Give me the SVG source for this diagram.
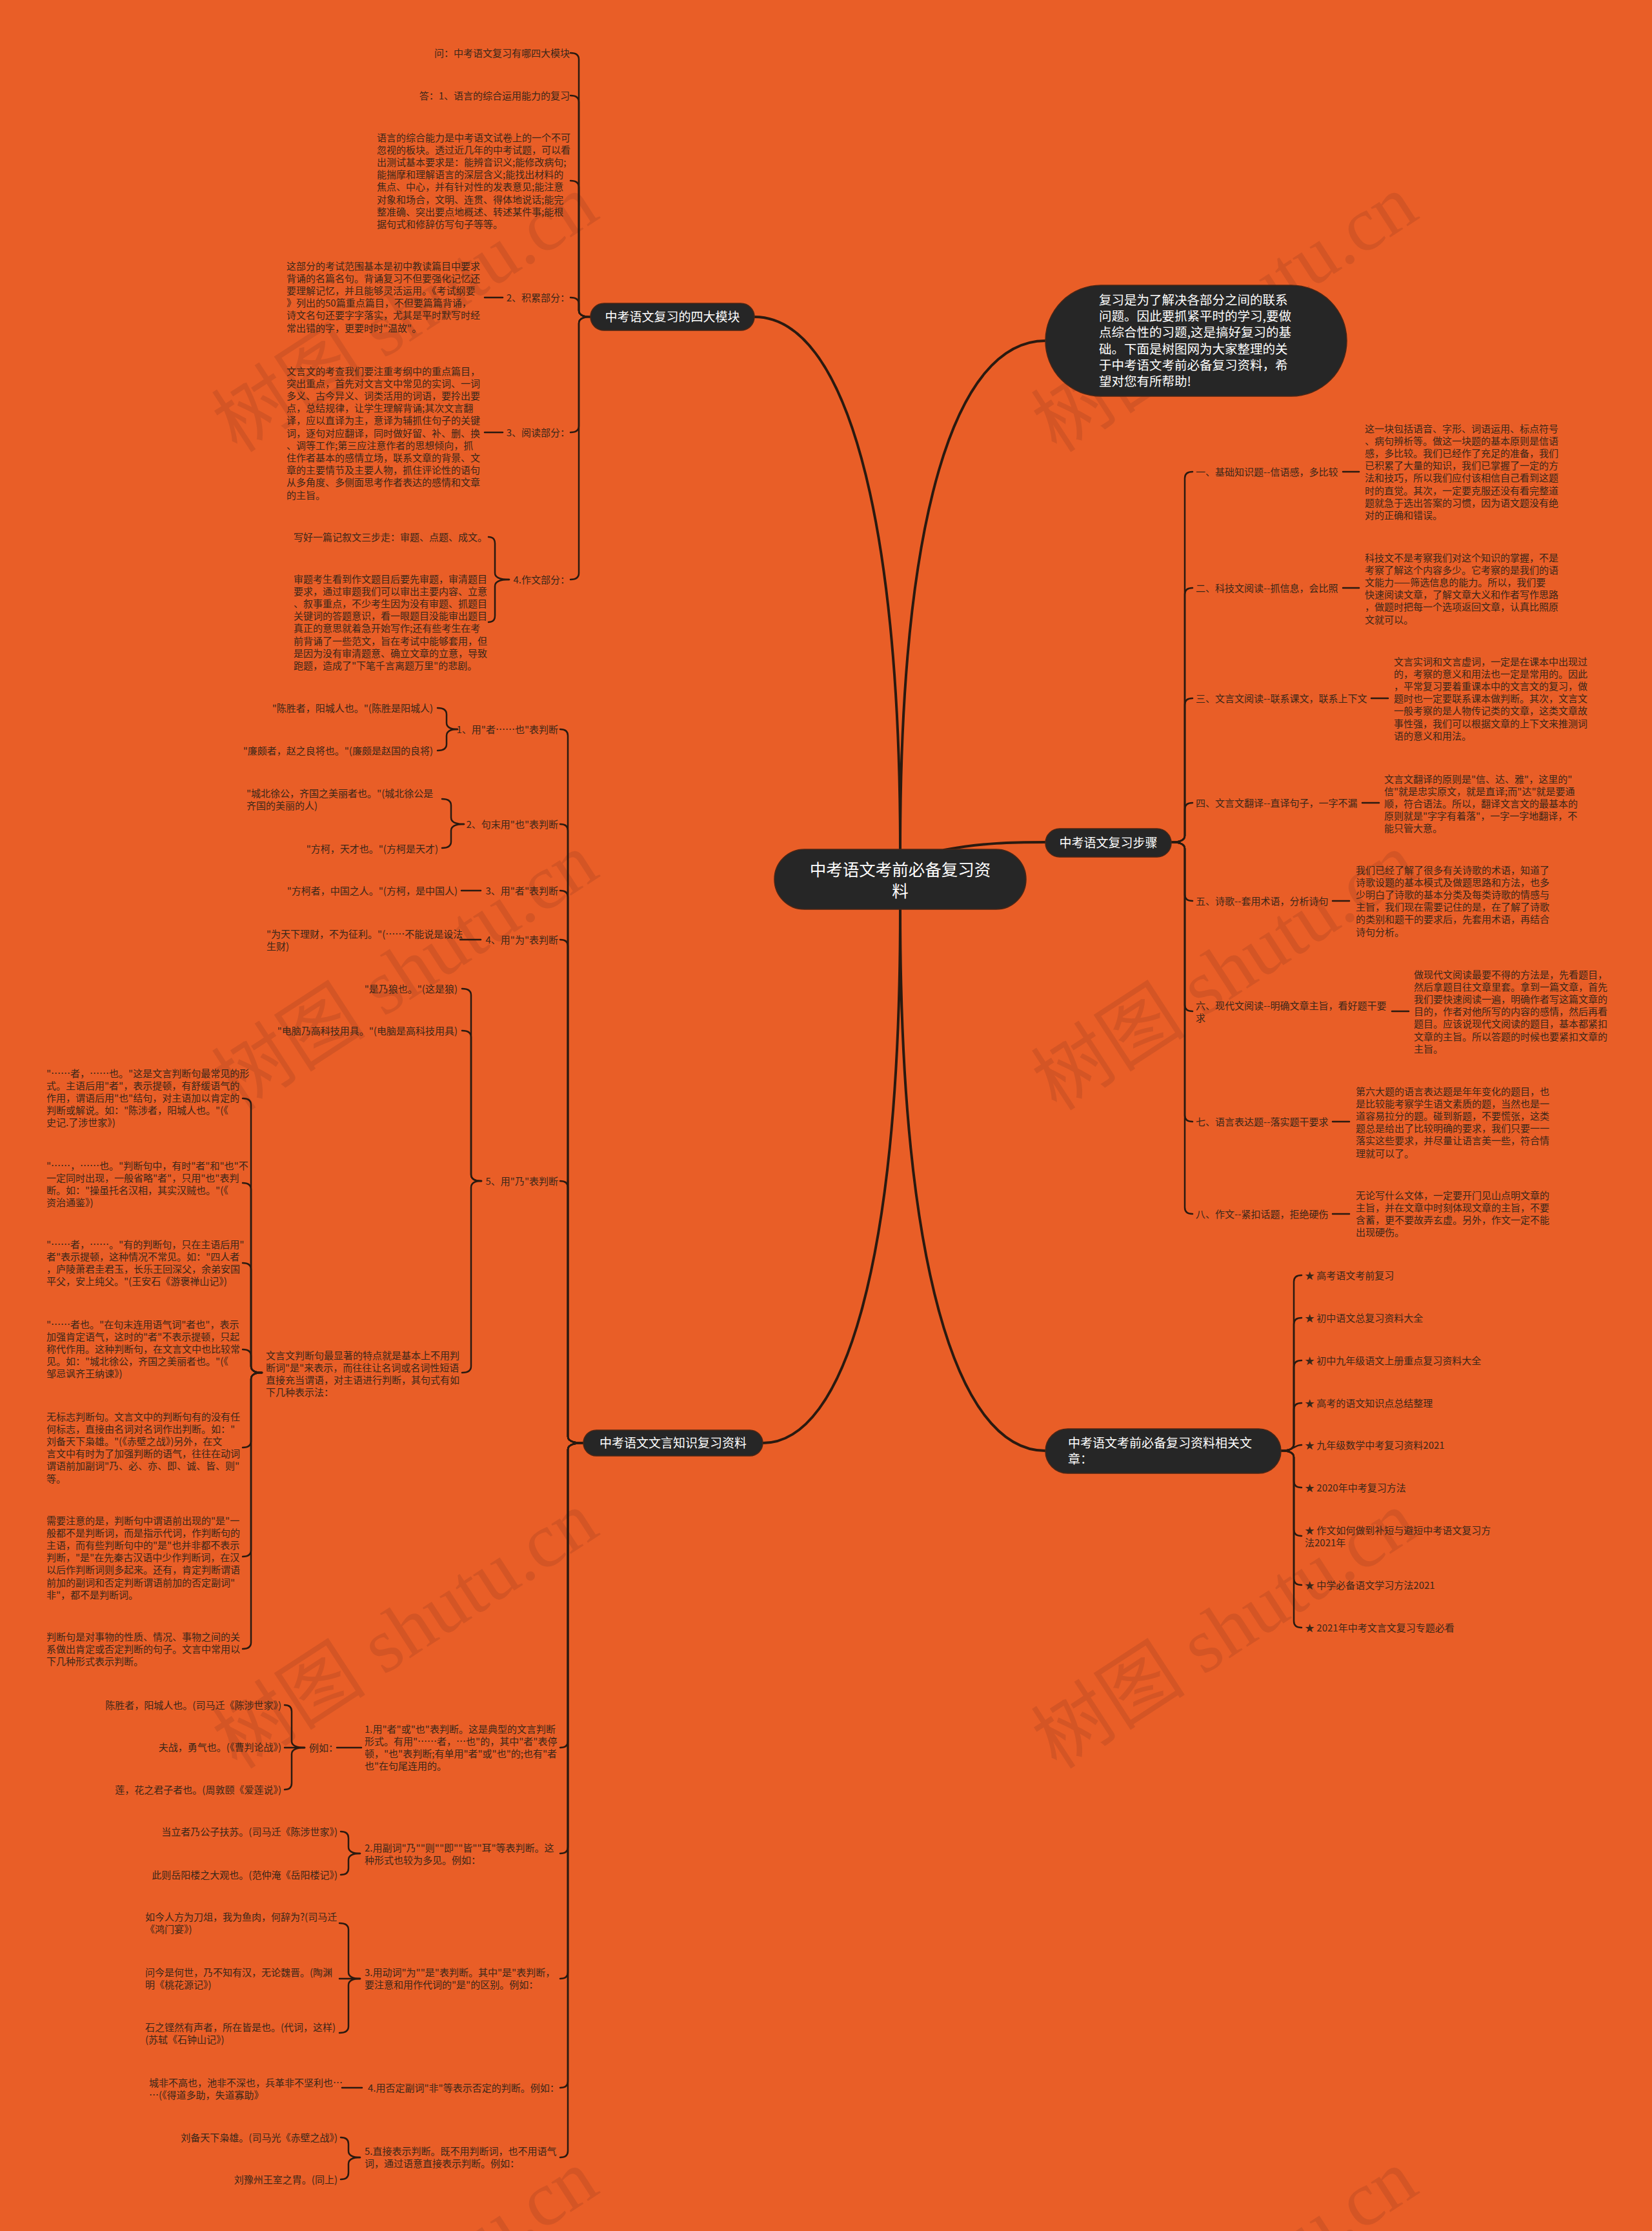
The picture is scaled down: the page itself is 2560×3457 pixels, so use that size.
<svg xmlns="http://www.w3.org/2000/svg" width="2560" height="3457" viewBox="0 0 2560 3457">
<style>
.t{font-family:"Noto Sans CJK SC","Noto Sans",sans-serif;font-size:15px;fill:#3a2719}
.e{text-anchor:end}
.n{font-family:"Noto Sans CJK SC","Noto Sans",sans-serif;font-size:19px;fill:#ffffff}
.m{text-anchor:middle}
.nd{fill:#262626;stroke:#4a2616;stroke-width:1.5}
.ln{fill:none;stroke:#2a1a10;stroke-width:2.5;stroke-linecap:round;stroke-linejoin:round}
.mn{fill:none;stroke:#2a1a10;stroke-width:4;stroke-linecap:round}
.wm{font-family:"Liberation Serif","Noto Sans CJK SC",serif;font-size:120px;fill:#a04020;opacity:0.28;text-anchor:middle}
</style>
<rect x="0" y="0" width="2560" height="3457" fill="#E95E27"/>
<g id="watermarks">
<text class="wm" transform="translate(650,520) rotate(-33)">树图 shutu.cn</text>
<text class="wm" transform="translate(1920,520) rotate(-33)">树图 shutu.cn</text>
<text class="wm" transform="translate(650,1540) rotate(-33)">树图 shutu.cn</text>
<text class="wm" transform="translate(1920,1540) rotate(-33)">树图 shutu.cn</text>
<text class="wm" transform="translate(650,2560) rotate(-33)">树图 shutu.cn</text>
<text class="wm" transform="translate(1920,2560) rotate(-33)">树图 shutu.cn</text>
<text class="wm" transform="translate(650,3580) rotate(-33)">树图 shutu.cn</text>
<text class="wm" transform="translate(1920,3580) rotate(-33)">树图 shutu.cn</text>
</g>
<g id="connectors">
<path class="mn" d="M1395,1316C1395,800 1310,491 1169,491"/>
<path class="mn" d="M1395,1316C1395,800 1480,528 1620,528"/>
<path class="mn" d="M1463,1317C1525,1306 1565,1305 1620,1305"/>
<path class="mn" d="M1395,1409C1395,1950 1310,2236 1182,2236"/>
<path class="mn" d="M1395,1409C1395,1950 1480,2248 1620,2248"/>
<path class="ln" d="M915,491Q897,491 897,481L897,92Q897,82 884,82"/>
<path class="ln" d="M915,491Q897,491 897,481L897,158Q897,148 884,148"/>
<path class="ln" d="M915,491Q897,491 897,481L897,290Q897,280 884,280"/>
<path class="ln" d="M915,491Q897,491 897,481L897,471Q897,461 884,461"/>
<path class="ln" d="M915,491Q897,491 897,501L897,660Q897,670 884,670"/>
<path class="ln" d="M915,491Q897,491 897,501L897,888Q897,898 884,898"/>
<path class="ln" d="M779,461L751,461"/>
<path class="ln" d="M779,670L751,670"/>
<path class="ln" d="M789,898Q767,898 767,888L767,842Q767,832 757,832"/>
<path class="ln" d="M789,898Q767,898 767,908L767,954Q767,964 757,964"/>
<path class="ln" d="M904,2236Q880,2236 880,2226L880,1140Q880,1130 868,1130"/>
<path class="ln" d="M904,2236Q880,2236 880,2226L880,1287Q880,1277 868,1277"/>
<path class="ln" d="M904,2236Q880,2236 880,2226L880,1390Q880,1380 868,1380"/>
<path class="ln" d="M904,2236Q880,2236 880,2226L880,1466Q880,1456 868,1456"/>
<path class="ln" d="M904,2236Q880,2236 880,2226L880,1840Q880,1830 868,1830"/>
<path class="ln" d="M904,2236Q880,2236 880,2246L880,2698Q880,2708 868,2708"/>
<path class="ln" d="M904,2236Q880,2236 880,2246L880,2862Q880,2872 868,2872"/>
<path class="ln" d="M904,2236Q880,2236 880,2246L880,3056Q880,3066 868,3066"/>
<path class="ln" d="M904,2236Q880,2236 880,2246L880,3225Q880,3235 868,3235"/>
<path class="ln" d="M904,2236Q880,2236 880,2246L880,3333Q880,3343 868,3343"/>
<path class="ln" d="M709,1130Q692,1130 692,1120L692,1107Q692,1097 678,1097"/>
<path class="ln" d="M709,1130Q692,1130 692,1140L692,1153Q692,1163 678,1163"/>
<path class="ln" d="M719,1277Q699,1277 699,1267L699,1248Q699,1238 685,1238"/>
<path class="ln" d="M719,1277Q699,1277 699,1287L699,1304Q699,1314 685,1314"/>
<path class="ln" d="M745,1380L715,1380"/>
<path class="ln" d="M745,1456L713,1456"/>
<path class="ln" d="M746,1830Q730,1830 730,1820L730,1542Q730,1532 716,1532"/>
<path class="ln" d="M746,1830Q730,1830 730,1820L730,1607Q730,1597 716,1597"/>
<path class="ln" d="M746,1830Q730,1830 730,1840L730,2117Q730,2127 716,2127"/>
<path class="ln" d="M406,2127Q389,2127 389,2117L389,1712Q389,1702 376,1702"/>
<path class="ln" d="M406,2127Q389,2127 389,2117L389,1843Q389,1833 376,1833"/>
<path class="ln" d="M406,2127Q389,2127 389,2117L389,1967Q389,1957 376,1957"/>
<path class="ln" d="M406,2127Q389,2127 389,2117L389,2101Q389,2091 376,2091"/>
<path class="ln" d="M406,2127Q389,2127 389,2137L389,2233Q389,2243 376,2243"/>
<path class="ln" d="M406,2127Q389,2127 389,2137L389,2402Q389,2412 376,2412"/>
<path class="ln" d="M406,2127Q389,2127 389,2137L389,2545Q389,2555 376,2555"/>
<path class="ln" d="M560,2708L522,2708"/>
<path class="ln" d="M472,2708Q452,2708 452,2698L452,2652Q452,2642 441,2642"/>
<path class="ln" d="M472,2708L441,2708"/>
<path class="ln" d="M472,2708Q452,2708 452,2718L452,2763Q452,2773 441,2773"/>
<path class="ln" d="M558,2872Q540,2872 540,2862L540,2848Q540,2838 528,2838"/>
<path class="ln" d="M558,2872Q540,2872 540,2882L540,2895Q540,2905 528,2905"/>
<path class="ln" d="M558,3066Q540,3066 540,3056L540,2990Q540,2980 526,2980"/>
<path class="ln" d="M558,3066L526,3066"/>
<path class="ln" d="M558,3066Q540,3066 540,3076L540,3140Q540,3150 526,3150"/>
<path class="ln" d="M561,3235L530,3235"/>
<path class="ln" d="M558,3343Q540,3343 540,3333L540,3322Q540,3312 528,3312"/>
<path class="ln" d="M558,3343Q540,3343 540,3353L540,3367Q540,3377 528,3377"/>
<path class="ln" d="M1815,1305Q1836,1305 1836,1295L1836,741Q1836,731 1848,731"/>
<path class="ln" d="M1815,1305Q1836,1305 1836,1295L1836,921Q1836,911 1848,911"/>
<path class="ln" d="M1815,1305Q1836,1305 1836,1295L1836,1092Q1836,1082 1848,1082"/>
<path class="ln" d="M1815,1305Q1836,1305 1836,1295L1836,1254Q1836,1244 1848,1244"/>
<path class="ln" d="M1815,1305Q1836,1305 1836,1315L1836,1386Q1836,1396 1848,1396"/>
<path class="ln" d="M1815,1305Q1836,1305 1836,1315L1836,1557Q1836,1567 1848,1567"/>
<path class="ln" d="M1815,1305Q1836,1305 1836,1315L1836,1728Q1836,1738 1848,1738"/>
<path class="ln" d="M1815,1305Q1836,1305 1836,1315L1836,1871Q1836,1881 1848,1881"/>
<path class="ln" d="M2081,731L2106,731"/>
<path class="ln" d="M2081,911L2106,911"/>
<path class="ln" d="M2125,1082L2151,1082"/>
<path class="ln" d="M2111,1244L2137,1244"/>
<path class="ln" d="M2065,1396L2091,1396"/>
<path class="ln" d="M2157,1567L2183,1567"/>
<path class="ln" d="M2065,1738L2091,1738"/>
<path class="ln" d="M2065,1881L2091,1881"/>
<path class="ln" d="M1985,2248Q2005,2248 2005,2238L2005,1986Q2005,1976 2017,1976"/>
<path class="ln" d="M1985,2248Q2005,2248 2005,2238L2005,2052Q2005,2042 2017,2042"/>
<path class="ln" d="M1985,2248Q2005,2248 2005,2238L2005,2118Q2005,2108 2017,2108"/>
<path class="ln" d="M1985,2248Q2005,2248 2005,2238L2005,2184Q2005,2174 2017,2174"/>
<path class="ln" d="M1985,2248C2005,2248 2005,2239 2017,2239"/>
<path class="ln" d="M1985,2248Q2005,2248 2005,2258L2005,2295Q2005,2305 2017,2305"/>
<path class="ln" d="M1985,2248Q2005,2248 2005,2258L2005,2370Q2005,2380 2017,2380"/>
<path class="ln" d="M1985,2248Q2005,2248 2005,2258L2005,2446Q2005,2456 2017,2456"/>
<path class="ln" d="M1985,2248Q2005,2248 2005,2258L2005,2512Q2005,2522 2017,2522"/>
</g>
<g id="center">
<rect class="nd" x="1200" y="1316" width="390" height="93" rx="46.5"/>
<text class="n m" style="font-size:25.5px" x="1395" y="1357">中考语文考前必备复习资</text>
<text class="n m" style="font-size:25.5px" x="1395" y="1390">料</text>
</g>
<g id="node-modules">
<rect class="nd" x="915" y="470" width="254" height="42" rx="21"/>
<text class="n m" x="1042" y="498">中考语文复习的四大模块</text>
</g>
<g id="modules-children">
<text class="t e" x="883" y="87.5">问：中考语文复习有哪四大模块</text>
<text class="t e" x="883" y="153.5">答：1、语言的综合运用能力的复习</text>
<text class="t" x="584" y="218.5"><tspan x="584" dy="0">语言的综合能力是中考语文试卷上的一个不可</tspan><tspan x="584" dy="19.2">忽视的板块。透过近几年的中考试题，可以看</tspan><tspan x="584" dy="19.2">出测试基本要求是：能辨音识义;能修改病句;</tspan><tspan x="584" dy="19.2">能揣摩和理解语言的深层含义;能找出材料的</tspan><tspan x="584" dy="19.2">焦点、中心，并有针对性的发表意见;能注意</tspan><tspan x="584" dy="19.2">对象和场合，文明、连贯、得体地说话;能完</tspan><tspan x="584" dy="19.2">整准确、突出要点地概述、转述某件事;能根</tspan><tspan x="584" dy="19.2">据句式和修辞仿写句子等等。</tspan></text>
<text class="t e" x="883" y="466.5">2、积累部分：</text>
<text class="t" x="444" y="417.5"><tspan x="444" dy="0">这部分的考试范围基本是初中教读篇目中要求</tspan><tspan x="444" dy="19.2">背诵的名篇名句。背诵复习不但要强化记忆还</tspan><tspan x="444" dy="19.2">要理解记忆，并且能够灵活运用。《考试纲要</tspan><tspan x="444" dy="19.2">》列出的50篇重点篇目，不但要篇篇背诵，</tspan><tspan x="444" dy="19.2">诗文名句还要字字落实，尤其是平时默写时经</tspan><tspan x="444" dy="19.2">常出错的字，更要时时"温故"。</tspan></text>
<text class="t e" x="883" y="675.5">3、阅读部分：</text>
<text class="t" x="444" y="580.5"><tspan x="444" dy="0">文言文的考查我们要注重考纲中的重点篇目，</tspan><tspan x="444" dy="19.2">突出重点，首先对文言文中常见的实词、一词</tspan><tspan x="444" dy="19.2">多义、古今异义、词类活用的词语，要拎出要</tspan><tspan x="444" dy="19.2">点，总结规律，让学生理解背诵;其次文言翻</tspan><tspan x="444" dy="19.2">译，应以直译为主，意译为辅抓住句子的关键</tspan><tspan x="444" dy="19.2">词，逐句对应翻译，同时做好留、补、删、换</tspan><tspan x="444" dy="19.2">、调等工作;第三应注意作者的思想倾向，抓</tspan><tspan x="444" dy="19.2">住作者基本的感情立场，联系文章的背景、文</tspan><tspan x="444" dy="19.2">章的主要情节及主要人物，抓住评论性的语句</tspan><tspan x="444" dy="19.2">从多角度、多侧面思考作者表达的感情和文章</tspan><tspan x="444" dy="19.2">的主旨。</tspan></text>
<text class="t e" x="883" y="903.5">4.作文部分：</text>
<text class="t e" x="755" y="837.5">写好一篇记叙文三步走：审题、点题、成文。</text>
<text class="t" x="455" y="902.5"><tspan x="455" dy="0">审题考生看到作文题目后要先审题，审清题目</tspan><tspan x="455" dy="19.2">要求，通过审题我们可以审出主要内容、立意</tspan><tspan x="455" dy="19.2">、叙事重点，不少考生因为没有审题、抓题目</tspan><tspan x="455" dy="19.2">关键词的答题意识，看一眼题目没能审出题目</tspan><tspan x="455" dy="19.2">真正的意思就着急开始写作;还有些考生在考</tspan><tspan x="455" dy="19.2">前背诵了一些范文，旨在考试中能够套用，但</tspan><tspan x="455" dy="19.2">是因为没有审清题意、确立文章的立意，导致</tspan><tspan x="455" dy="19.2">跑题，造成了"下笔千言离题万里"的悲剧。</tspan></text>
</g>
<g id="node-wenyan">
<rect class="nd" x="904" y="2216" width="278" height="40" rx="20"/>
<text class="n m" x="1043" y="2243">中考语文文言知识复习资料</text>
</g>
<g id="wenyan-children">
<text class="t e" x="865" y="1135.5">1、用"者……也"表判断</text>
<text class="t e" x="671" y="1102.5">"陈胜者，阳城人也。"(陈胜是阳城人)</text>
<text class="t e" x="671" y="1168.5">"廉颇者，赵之良将也。"(廉颇是赵国的良将)</text>
<text class="t e" x="865" y="1282.5">2、句末用"也"表判断</text>
<text class="t" x="382" y="1234.5"><tspan x="382" dy="0">"城北徐公，齐国之美丽者也。"(城北徐公是</tspan><tspan x="382" dy="19.2">齐国的美丽的人)</tspan></text>
<text class="t e" x="679" y="1320.5">"方柯，天才也。"(方柯是天才)</text>
<text class="t e" x="865" y="1385.5">3、用"者"表判断</text>
<text class="t e" x="709" y="1385.5">"方柯者，中国之人。"(方柯，是中国人)</text>
<text class="t e" x="865" y="1461.5">4、用"为"表判断</text>
<text class="t" x="413" y="1452.5"><tspan x="413" dy="0">"为天下理财，不为征利。"(……不能说是设法</tspan><tspan x="413" dy="19.2">生财)</tspan></text>
<text class="t e" x="865" y="1835.5">5、用"乃"表判断</text>
<text class="t e" x="709" y="1537.5">"是乃狼也。"(这是狼)</text>
<text class="t e" x="709" y="1602.5">"电脑乃高科技用具。"(电脑是高科技用具)</text>
<text class="t" x="412" y="2105.5"><tspan x="412" dy="0">文言文判断句最显著的特点就是基本上不用判</tspan><tspan x="412" dy="19.2">断词"是"来表示，而往往让名词或名词性短语</tspan><tspan x="412" dy="19.2">直接充当谓语，对主语进行判断，其句式有如</tspan><tspan x="412" dy="19.2">下几种表示法：</tspan></text>
<text class="t" x="72" y="1668.5"><tspan x="72" dy="0">"……者，……也。"这是文言判断句最常见的形</tspan><tspan x="72" dy="19.2">式。主语后用"者"，表示提顿，有舒缓语气的</tspan><tspan x="72" dy="19.2">作用，谓语后用"也"结句，对主语加以肯定的</tspan><tspan x="72" dy="19.2">判断或解说。如："陈涉者，阳城人也。"(《</tspan><tspan x="72" dy="19.2">史记.了涉世家》)</tspan></text>
<text class="t" x="72" y="1811.5"><tspan x="72" dy="0">"……，……也。"判断句中，有时"者"和"也"不</tspan><tspan x="72" dy="19.2">一定同时出现，一般省略"者"，只用"也"表判</tspan><tspan x="72" dy="19.2">断。如："操虽托名汉相，其实汉贼也。"(《</tspan><tspan x="72" dy="19.2">资治通鉴》)</tspan></text>
<text class="t" x="72" y="1933.5"><tspan x="72" dy="0">"……者，……。"有的判断句，只在主语后用"</tspan><tspan x="72" dy="19.2">者"表示提顿，这种情况不常见。如："四人者</tspan><tspan x="72" dy="19.2">，庐陵萧君圭君玉，长乐王回深父，余弟安国</tspan><tspan x="72" dy="19.2">平父，安上纯父。"(王安石《游褒禅山记》)</tspan></text>
<text class="t" x="72" y="2057.5"><tspan x="72" dy="0">"……者也。"在句末连用语气词"者也"，表示</tspan><tspan x="72" dy="19.2">加强肯定语气，这时的"者"不表示提顿，只起</tspan><tspan x="72" dy="19.2">称代作用。这种判断句，在文言文中也比较常</tspan><tspan x="72" dy="19.2">见。如："城北徐公，齐国之美丽者也。"(《</tspan><tspan x="72" dy="19.2">邹忌讽齐王纳谏》)</tspan></text>
<text class="t" x="72" y="2200.5"><tspan x="72" dy="0">无标志判断句。文言文中的判断句有的没有任</tspan><tspan x="72" dy="19.2">何标志，直接由名词对名词作出判断。如："</tspan><tspan x="72" dy="19.2">刘备天下枭雄。"(《赤壁之战》)另外，在文</tspan><tspan x="72" dy="19.2">言文中有时为了加强判断的语气，往往在动词</tspan><tspan x="72" dy="19.2">谓语前加副词"乃、必、亦、即、诚、皆、则"</tspan><tspan x="72" dy="19.2">等。</tspan></text>
<text class="t" x="72" y="2361.5"><tspan x="72" dy="0">需要注意的是，判断句中谓语前出现的"是"一</tspan><tspan x="72" dy="19.2">般都不是判断词，而是指示代词，作判断句的</tspan><tspan x="72" dy="19.2">主语，而有些判断句中的"是"也并非都不表示</tspan><tspan x="72" dy="19.2">判断，"是"在先秦古汉语中少作判断词，在汉</tspan><tspan x="72" dy="19.2">以后作判断词则多起来。还有，肯定判断谓语</tspan><tspan x="72" dy="19.2">前加的副词和否定判断谓语前加的否定副词"</tspan><tspan x="72" dy="19.2">非"，都不是判断词。</tspan></text>
<text class="t" x="72" y="2541.5"><tspan x="72" dy="0">判断句是对事物的性质、情况、事物之间的关</tspan><tspan x="72" dy="19.2">系做出肯定或否定判断的句子。文言中常用以</tspan><tspan x="72" dy="19.2">下几种形式表示判断。</tspan></text>
<text class="t" x="565" y="2684.5"><tspan x="565" dy="0">1.用"者"或"也"表判断。这是典型的文言判断</tspan><tspan x="565" dy="19.2">形式。有用"……者，…也"的，其中"者"表停</tspan><tspan x="565" dy="19.2">顿，"也"表判断;有单用"者"或"也"的;也有"者</tspan><tspan x="565" dy="19.2">也"在句尾连用的。</tspan></text>
<text class="t" x="479" y="2713.5">例如：</text>
<text class="t e" x="436" y="2647.5">陈胜者，阳城人也。(司马迁《陈涉世家》)</text>
<text class="t e" x="436" y="2712.5">夫战，勇气也。(《曹判论战》)</text>
<text class="t e" x="436" y="2778.5">莲，花之君子者也。(周敦颐《爱莲说》)</text>
<text class="t" x="565" y="2868.5"><tspan x="565" dy="0">2.用副词"乃""则""即""皆""耳"等表判断。这</tspan><tspan x="565" dy="19.2">种形式也较为多见。例如：</tspan></text>
<text class="t e" x="523" y="2843.5">当立者乃公子扶苏。(司马迁《陈涉世家》)</text>
<text class="t e" x="523" y="2910.5">此则岳阳楼之大观也。(范仲淹《岳阳楼记》)</text>
<text class="t" x="565" y="3061.5"><tspan x="565" dy="0">3.用动词"为""是"表判断。其中"是"表判断，</tspan><tspan x="565" dy="19.2">要注意和用作代词的"是"的区别。例如：</tspan></text>
<text class="t" x="225" y="2975.5"><tspan x="225" dy="0">如今人方为刀俎，我为鱼肉，何辞为?(司马迁</tspan><tspan x="225" dy="19.2">《鸿门宴》)</tspan></text>
<text class="t" x="225" y="3061.5"><tspan x="225" dy="0">问今是何世，乃不知有汉，无论魏晋。(陶渊</tspan><tspan x="225" dy="19.2">明《桃花源记》)</tspan></text>
<text class="t" x="225" y="3146.5"><tspan x="225" dy="0">石之铿然有声者，所在皆是也。(代词，这样)</tspan><tspan x="225" dy="19.2">(苏轼《石钟山记》)</tspan></text>
<text class="t" x="570" y="3240.5">4.用否定副词"非"等表示否定的判断。例如：</text>
<text class="t" x="231" y="3232.5"><tspan x="231" dy="0">城非不高也，池非不深也，兵革非不坚利也…</tspan><tspan x="231" dy="19.2">…(《得道多助，失道寡助》</tspan></text>
<text class="t" x="565" y="3338.5"><tspan x="565" dy="0">5.直接表示判断。既不用判断词，也不用语气</tspan><tspan x="565" dy="19.2">词，通过语意直接表示判断。例如：</tspan></text>
<text class="t e" x="523" y="3317.5">刘备天下枭雄。(司马光《赤壁之战》)</text>
<text class="t e" x="523" y="3382.5">刘豫州王室之胄。(同上)</text>
</g>
<g id="node-intro">
<rect class="nd" x="1620" y="442" width="467" height="172" rx="86"/>
<text class="n" style="font-size:19.5px" x="1703" y="472"><tspan x="1703" dy="0">复习是为了解决各部分之间的联系</tspan><tspan x="1703" dy="25.2">问题。因此要抓紧平时的学习,要做</tspan><tspan x="1703" dy="25.2">点综合性的习题,这是搞好复习的基</tspan><tspan x="1703" dy="25.2">础。下面是树图网为大家整理的关</tspan><tspan x="1703" dy="25.2">于中考语文考前必备复习资料，希</tspan><tspan x="1703" dy="25.2">望对您有所帮助!</tspan></text>
</g>
<g id="node-steps">
<rect class="nd" x="1620" y="1284" width="195" height="44" rx="22"/>
<text class="n m" x="1717.5" y="1313">中考语文复习步骤</text>
</g>
<g id="steps-children">
<text class="t" x="1853" y="736.5">一、基础知识题--信语感，多比较</text>
<text class="t" x="2115" y="669.5"><tspan x="2115" dy="0">这一块包括语音、字形、词语运用、标点符号</tspan><tspan x="2115" dy="19.2">、病句辨析等。做这一块题的基本原则是信语</tspan><tspan x="2115" dy="19.2">感，多比较。我们已经作了充足的准备，我们</tspan><tspan x="2115" dy="19.2">已积累了大量的知识，我们已掌握了一定的方</tspan><tspan x="2115" dy="19.2">法和技巧，所以我们应付该相信自己看到这题</tspan><tspan x="2115" dy="19.2">时的直觉。其次，一定要克服还没有看完整道</tspan><tspan x="2115" dy="19.2">题就急于选出答案的习惯，因为语文题没有绝</tspan><tspan x="2115" dy="19.2">对的正确和错误。</tspan></text>
<text class="t" x="1853" y="916.5">二、科技文阅读--抓信息，会比照</text>
<text class="t" x="2115" y="869.5"><tspan x="2115" dy="0">科技文不是考察我们对这个知识的掌握，不是</tspan><tspan x="2115" dy="19.2">考察了解这个内容多少。它考察的是我们的语</tspan><tspan x="2115" dy="19.2">文能力——筛选信息的能力。所以，我们要</tspan><tspan x="2115" dy="19.2">快速阅读文章，了解文章大义和作者写作思路</tspan><tspan x="2115" dy="19.2">，做题时把每一个选项返回文章，认真比照原</tspan><tspan x="2115" dy="19.2">文就可以。</tspan></text>
<text class="t" x="1853" y="1087.5">三、文言文阅读--联系课文，联系上下文</text>
<text class="t" x="2160" y="1030.5"><tspan x="2160" dy="0">文言实词和文言虚词，一定是在课本中出现过</tspan><tspan x="2160" dy="19.2">的，考察的意义和用法也一定是常用的。因此</tspan><tspan x="2160" dy="19.2">，平常复习要着重课本中的文言文的复习，做</tspan><tspan x="2160" dy="19.2">题时也一定要联系课本做判断。其次，文言文</tspan><tspan x="2160" dy="19.2">一般考察的是人物传记类的文章，这类文章故</tspan><tspan x="2160" dy="19.2">事性强，我们可以根据文章的上下文来推测词</tspan><tspan x="2160" dy="19.2">语的意义和用法。</tspan></text>
<text class="t" x="1853" y="1249.5">四、文言文翻译--直译句子，一字不漏</text>
<text class="t" x="2145" y="1212.5"><tspan x="2145" dy="0">文言文翻译的原则是"信、达、雅"，这里的"</tspan><tspan x="2145" dy="19.2">信"就是忠实原文，就是直译;而"达"就是要通</tspan><tspan x="2145" dy="19.2">顺，符合语法。所以，翻译文言文的最基本的</tspan><tspan x="2145" dy="19.2">原则就是"字字有着落"，一字一字地翻译，不</tspan><tspan x="2145" dy="19.2">能只管大意。</tspan></text>
<text class="t" x="1853" y="1401.5">五、诗歌--套用术语，分析诗句</text>
<text class="t" x="2101" y="1353.5"><tspan x="2101" dy="0">我们已经了解了很多有关诗歌的术语，知道了</tspan><tspan x="2101" dy="19.2">诗歌设题的基本模式及做题思路和方法，也多</tspan><tspan x="2101" dy="19.2">少明白了诗歌的基本分类及每类诗歌的情感与</tspan><tspan x="2101" dy="19.2">主旨，我们现在需要记住的是，在了解了诗歌</tspan><tspan x="2101" dy="19.2">的类别和题干的要求后，先套用术语，再结合</tspan><tspan x="2101" dy="19.2">诗句分析。</tspan></text>
<text class="t" x="1853" y="1563.5"><tspan x="1853" dy="0">六、现代文阅读--明确文章主旨，看好题干要</tspan><tspan x="1853" dy="19.2">求</tspan></text>
<text class="t" x="2191" y="1515.5"><tspan x="2191" dy="0">做现代文阅读最要不得的方法是，先看题目，</tspan><tspan x="2191" dy="19.2">然后拿题目往文章里套。拿到一篇文章，首先</tspan><tspan x="2191" dy="19.2">我们要快速阅读一遍，明确作者写这篇文章的</tspan><tspan x="2191" dy="19.2">目的，作者对他所写的内容的感情，然后再看</tspan><tspan x="2191" dy="19.2">题目。应该说现代文阅读的题目，基本都紧扣</tspan><tspan x="2191" dy="19.2">文章的主旨。所以答题的时候也要紧扣文章的</tspan><tspan x="2191" dy="19.2">主旨。</tspan></text>
<text class="t" x="1853" y="1743.5">七、语言表达题--落实题干要求</text>
<text class="t" x="2101" y="1696.5"><tspan x="2101" dy="0">第六大题的语言表达题是年年变化的题目，也</tspan><tspan x="2101" dy="19.2">是比较能考察学生语文素质的题，当然也是一</tspan><tspan x="2101" dy="19.2">道容易拉分的题。碰到新题，不要慌张，这类</tspan><tspan x="2101" dy="19.2">题总是给出了比较明确的要求，我们只要一一</tspan><tspan x="2101" dy="19.2">落实这些要求，并尽量让语言美一些，符合情</tspan><tspan x="2101" dy="19.2">理就可以了。</tspan></text>
<text class="t" x="1853" y="1886.5">八、作文--紧扣话题，拒绝硬伤</text>
<text class="t" x="2101" y="1857.5"><tspan x="2101" dy="0">无论写什么文体，一定要开门见山点明文章的</tspan><tspan x="2101" dy="19.2">主旨，并在文章中时刻体现文章的主旨，不要</tspan><tspan x="2101" dy="19.2">含蓄，更不要故弄玄虚。另外，作文一定不能</tspan><tspan x="2101" dy="19.2">出现硬伤。</tspan></text>
</g>
<g id="node-related">
<rect class="nd" x="1620" y="2214" width="365" height="69" rx="34.5"/>
<text class="n" x="1655" y="2243"><tspan x="1655" dy="0">中考语文考前必备复习资料相关文</tspan><tspan x="1655" dy="25">章：</tspan></text>
</g>
<g id="related-children">
<text class="t" x="2022" y="1981.5">★ 高考语文考前复习</text>
<text class="t" x="2022" y="2047.5">★ 初中语文总复习资料大全</text>
<text class="t" x="2022" y="2113.5">★ 初中九年级语文上册重点复习资料大全</text>
<text class="t" x="2022" y="2179.5">★ 高考的语文知识点总结整理</text>
<text class="t" x="2022" y="2244.5">★ 九年级数学中考复习资料2021</text>
<text class="t" x="2022" y="2310.5">★ 2020年中考复习方法</text>
<text class="t" x="2022" y="2376.5"><tspan x="2022" dy="0">★ 作文如何做到补短与避短中考语文复习方</tspan><tspan x="2022" dy="19.2">法2021年</tspan></text>
<text class="t" x="2022" y="2461.5">★ 中学必备语文学习方法2021</text>
<text class="t" x="2022" y="2527.5">★ 2021年中考文言文复习专题必看</text>
</g>
</svg>
